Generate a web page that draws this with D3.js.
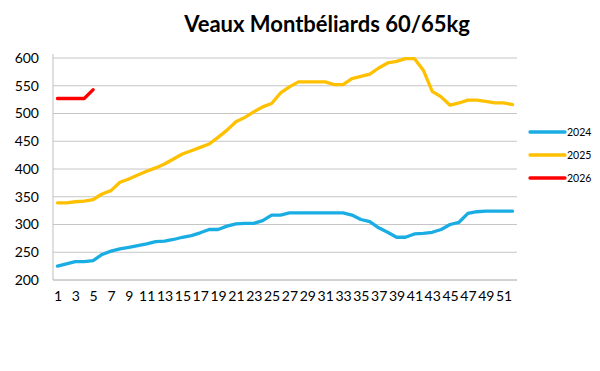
<!DOCTYPE html>
<html>
<head>
<meta charset="utf-8">
<script src="https://cdn.jsdelivr.net/npm/d3@7"></script>
<style>
  html, body { margin: 0; padding: 0; background: #fff; }
  svg { display: block; }
</style>
</head>
<body>
<svg id="chart" width="600" height="371"></svg>
<script>
const weeks = d3.range(1, 53);
const yTicks = [200, 250, 300, 350, 400, 450, 500, 550, 600];
const xTickLabels = d3.range(1, 53, 2);
const seriesNames = ["2024", "2025", "2026"];
const colors = ["#1AADE4", "#FFC000", "#FF0000"];

const s2024 = [225, 229, 233, 233, 235, 246, 252, 256, 259, 262, 265, 269, 270, 273, 277, 280, 285, 291, 291, 297,
  301, 302, 302, 307, 317, 317, 321, 321, 321, 321, 321, 321, 321, 317, 309, 305, 294, 286, 277, 277,
  283, 284, 286, 291, 300, 304, 320, 323, 324, 324, 324, 324];
const s2025 = [339, 339, 341, 342, 345, 355, 361, 376, 382, 389, 396, 402, 409, 418, 427, 433, 439, 445, 457, 470,
  485, 493, 503, 512, 518, 537, 548, 557, 557, 557, 557, 552, 552, 563, 567, 571, 582, 591, 594, 599,
  599, 578, 540, 530, 515, 519, 524, 524, 522, 519, 519, 516];
const s2026 = [527, 527, 527, 527, 543];

const seriesValues = [s2024, s2025, s2026];

const svg = d3.select("#chart");
const pLeft = 53, pRight = 517, pTop = 58, pBottom = 280;

const x = d3.scalePoint().domain(weeks).range([pLeft, pRight]).padding(0.5);
const y = d3.scaleLinear().domain([200, 600]).range([pBottom, pTop]);

// title
svg.append("text")
  .attr("x", 327).attr("y", 32)
  .attr("text-anchor", "middle")
  .attr("font-family", "Lato, 'Open Sans', sans-serif")
  .attr("font-weight", "bold")
  .attr("font-size", 22)
  .attr("fill", "#000")
  .text("Veaux Montbéliards 60/65kg");

// gridlines
svg.append("g").selectAll("line").data(yTicks.filter(t => t > 200)).join("line")
  .attr("x1", pLeft).attr("x2", pRight)
  .attr("y1", d => y(d)).attr("y2", d => y(d))
  .attr("stroke", "#C6C6C6").attr("stroke-width", 1);

// y axis
const yAxis = d3.axisLeft(y).tickValues(yTicks).tickSize(0).tickPadding(14);
const gy = svg.append("g").attr("transform", `translate(${pLeft},0)`).call(yAxis);
gy.select(".domain").attr("stroke", "#BFBFBF").attr("d", `M0,${pTop - 4}V${pBottom}`);
gy.selectAll("text").attr("font-family", "Lato, 'Open Sans', sans-serif").attr("font-size", 14).attr("fill", "#000");

// x axis
const xAxis = d3.axisBottom(x).tickValues(xTickLabels).tickSize(0).tickPadding(11);
const gx = svg.append("g").attr("transform", `translate(0,${pBottom})`).call(xAxis);
gx.select(".domain").attr("stroke", "#A6A6A6").attr("d", `M${pLeft},0H${pRight}`);
gx.selectAll("text").attr("font-family", "Lato, 'Open Sans', sans-serif").attr("font-size", 14).attr("fill", "#000");

// lines
const line = d3.line().x((d, i) => x(weeks[i])).y(d => y(d));
svg.append("g").selectAll("path").data(seriesValues).join("path")
  .attr("d", d => line(d))
  .attr("fill", "none")
  .attr("stroke", (d, i) => colors[i])
  .attr("stroke-width", 3.3)
  .attr("stroke-linejoin", "round")
  .attr("stroke-linecap", "round");

// legend
const lg = svg.append("g").selectAll("g").data(seriesNames).join("g")
  .attr("transform", (d, i) => `translate(530,${132 + i * 23})`);
lg.append("line").attr("x1", 0).attr("x2", 35).attr("y1", 0).attr("y2", 0)
  .attr("stroke", (d, i) => colors[i]).attr("stroke-width", 3.3).attr("stroke-linecap", "round");
lg.append("text").attr("x", 37).attr("y", 3.5)
  .attr("font-family", "Lato, 'Open Sans', sans-serif").attr("font-size", 10.5).attr("fill", "#000")
  .text(d => d);
</script>
</body>
</html>
